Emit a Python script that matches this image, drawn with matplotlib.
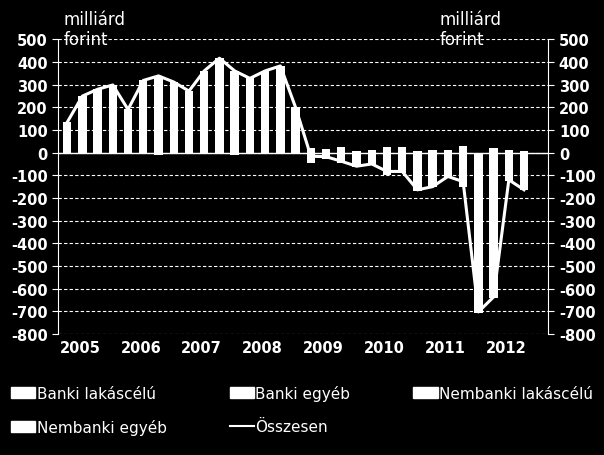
import matplotlib
matplotlib.use("Agg")
import matplotlib.pyplot as plt
import numpy as np
from matplotlib.patches import Patch
from matplotlib.lines import Line2D

plt.rcParams["axes.unicode_minus"] = False

years = ["2005", "2006", "2007", "2008", "2009", "2010", "2011", "2012"]
total = [133, 249, 279, 298, 190, 318, 338, 311, 271, 360, 416, 360, 327, 360, 382, 199,
         -16, -18, -38, -60, -50, -83, -83, -164, -150, -105, -128, -702, -636, -120, -164]
pos_part = [133, 249, 279, 298, 190, 318, 338, 311, 271, 360, 416, 360, 327, 360, 382, 199,
            20, 15, 25, 5, 10, 25, 25, 5, 10, 10, 30, 0, 20, 10, 5]
neg_part = [0, 0, 0, 0, 0, 0, -10, 0, 0, 0, 0, -10, 0, 0, 0, 0,
            -45, -30, -45, -65, -55, -100, -90, -170, -150, -110, -150, -705, -640, -125, -165]

fig = plt.figure(figsize=(6.04, 4.56), dpi=100, facecolor="black")
ax = fig.add_axes([0.096, 0.265, 0.812, 0.647], facecolor="black")
x = np.arange(len(total))
ax.bar(x, pos_part, width=0.55, color="white")
ax.bar(x, neg_part, width=0.55, color="white")
ax.plot(x, total, color="white", lw=2.2)
ax.set_xlim(-0.6, 31.6)
ax.set_ylim(-800, 500)
ax.set_yticks(range(-800, 501, 100))
ax.yaxis.grid(True, color="white", ls=(0, (3, 2)), lw=0.8)
ax.set_axisbelow(True)
ax.axhline(0, color="white", lw=1)
ax.set_xticks(np.arange(-0.5, 32, 4))
ax.set_xticklabels(years + [""], ha="left")
ax.tick_params(axis="x", which="both", length=0, colors="white", labelsize=10.5, pad=4)
for lbl in ax.get_xticklabels():
    lbl.set_fontweight("bold")
ax.tick_params(axis="y", colors="white", labelsize=10.5, length=4)
for lbl in ax.get_yticklabels():
    lbl.set_fontweight("bold")
ax2 = ax.twinx()
ax2.set_ylim(-800, 500)
ax2.set_yticks(range(-800, 501, 100))
ax2.tick_params(axis="y", colors="white", labelsize=10.5, length=4)
for lbl in ax2.get_yticklabels():
    lbl.set_fontweight("bold")
for a in (ax, ax2):
    for s in a.spines.values():
        s.set_visible(False)
    a.spines["left"].set_visible(a is ax)
    a.spines["right"].set_visible(a is ax2)
    a.spines["left"].set_color("white")
    a.spines["right"].set_color("white")
fig.text(0.105, 0.975, "milliárd\nforint", color="white", fontsize=12, va="top", linespacing=1.1)
fig.text(0.728, 0.975, "milliárd\nforint", color="white", fontsize=12, va="top", linespacing=1.1)

labels = ["Banki lakáscélú", "Nembanki egyéb", "Banki egyéb", "Összesen", "Nembanki lakáscélú"]
handles = [Patch(color="white"), Patch(color="white"), Patch(color="white"),
           Line2D([], [], color="white", lw=1.5), Patch(color="white")]
leg = fig.legend(handles, labels, loc="lower left", bbox_to_anchor=(0.0, 0.02, 1.0, 0.15),
                 ncol=3, mode="expand", frameon=False, fontsize=11, labelcolor="white",
                 handlelength=1.6, handletextpad=0.1, columnspacing=0.5, borderaxespad=0.3,
                 labelspacing=1.2)
fig.savefig("out.png", facecolor="black")
